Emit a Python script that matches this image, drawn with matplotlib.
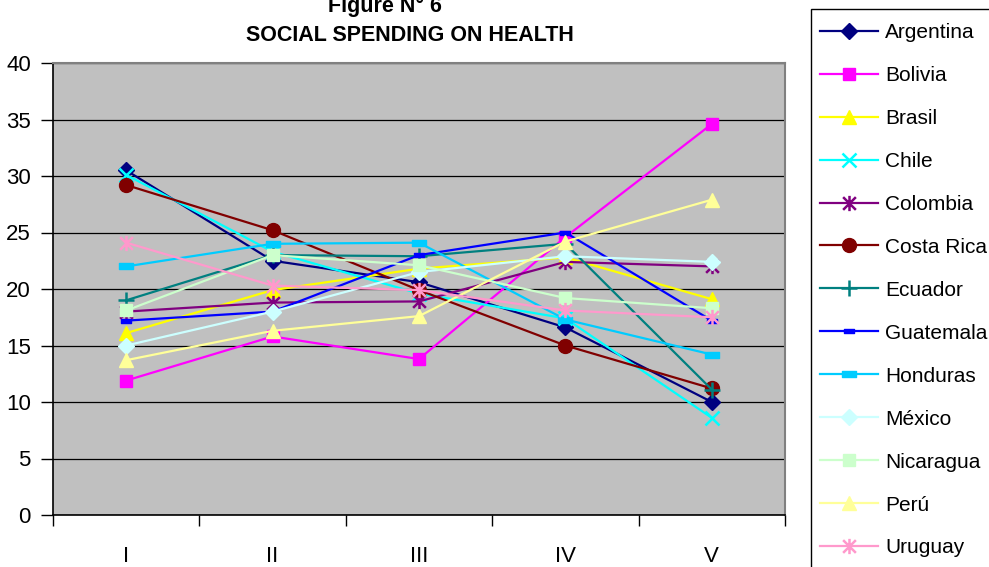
import matplotlib
matplotlib.use("Agg")
import matplotlib.pyplot as plt
from matplotlib.path import Path
from matplotlib.patches import Rectangle

plt.rcParams['font.family'] = ['Liberation Sans', 'DejaVu Sans']

periods = ["I", "II", "III", "IV", "V"]
countries = ["Argentina", "Bolivia", "Brasil", "Chile", "Colombia", "Costa Rica",
             "Ecuador", "Guatemala", "Honduras", "México", "Nicaragua", "Perú", "Uruguay"]

argentina = [30.5, 22.5, 20.6, 16.6, 10.0]
bolivia = [11.9, 15.8, 13.8, 24.6, 34.6]
brasil = [16.1, 19.9, 21.8, 22.8, 19.1]
chile = [30.1, 23.3, 19.6, 17.4, 8.6]
colombia = [18.0, 18.8, 18.9, 22.4, 22.0]
costa_rica = [29.2, 25.2, 19.9, 15.0, 11.2]
ecuador = [19.0, 23.0, 22.9, 24.0, 11.1]
guatemala = [17.2, 18.0, 23.0, 25.0, 17.2]
honduras = [22.0, 24.0, 24.1, 17.3, 14.2]
mexico = [15.0, 18.0, 21.5, 22.9, 22.4]
nicaragua = [18.1, 23.0, 22.1, 19.2, 18.3]
peru = [13.7, 16.3, 17.6, 24.2, 27.9]
uruguay = [24.1, 20.3, 19.9, 18.1, 17.5]

series = [argentina, bolivia, brasil, chile, colombia, costa_rica, ecuador,
          guatemala, honduras, mexico, nicaragua, peru, uruguay]

colors = ["#000080", "#FF00FF", "#FFFF00", "#00FFFF", "#800080", "#800000",
          "#008080", "#0000FF", "#00CCFF", "#CCFFFF", "#CCFFCC", "#FFFF99", "#FF99CC"]

star = Path([(-1, -1), (1, 1), (-1, 1), (1, -1), (0, -1.2), (0, 1.2)],
            [Path.MOVETO, Path.LINETO, Path.MOVETO, Path.LINETO, Path.MOVETO, Path.LINETO])
dash = Path([(-1, -0.4), (1, -0.4), (1, 0.4), (-1, 0.4), (-1, -0.4)],
            [Path.MOVETO, Path.LINETO, Path.LINETO, Path.LINETO, Path.CLOSEPOLY])

# marker, size, filled
styles = [("D", 8, True), ("s", 9, True), ("^", 10, True), ("x", 10, False),
          (star, 11, False), ("o", 10, True), ("+", 11, False), (dash, 7, True),
          (dash, 10, True), ("D", 8, True), ("s", 9, True), ("^", 10, True), (star, 11, False)]

fig = plt.figure(figsize=(9.89, 5.67), dpi=100)
ax = fig.add_axes([53 / 989, 1 - 515 / 567, (785 - 53) / 989, (515 - 63) / 567])
ax.set_facecolor("#C0C0C0")

x = list(range(len(periods)))
handles = []
for vals, name, col, (mk, ms, filled) in zip(series, countries, colors, styles):
    if filled:
        ln, = ax.plot(x, vals, color=col, lw=1.6, marker=mk, ms=ms,
                      markerfacecolor=col, markeredgecolor=col, mew=1, label=name)
    else:
        ln, = ax.plot(x, vals, color=col, lw=1.6, marker=mk, ms=ms,
                      markeredgecolor=col, mew=1.8, label=name)
    handles.append(ln)

ax.set_xlim(-0.5, 4.5)
ax.set_ylim(0, 40)
ax.set_yticks(range(0, 41, 5))
ax.yaxis.grid(True, color="black", lw=0.9)
ax.set_axisbelow(True)
ax.set_xticks(x)
ax.set_xticklabels(periods)
ax.set_xticks([i - 0.5 for i in range(6)], minor=True)
ax.tick_params(axis="x", which="major", length=0, pad=22, labelsize=16)
ax.tick_params(axis="x", which="minor", length=8, width=1, direction="out")
ax.tick_params(axis="y", length=9, width=1, pad=7, labelsize=16)
for s in ["top", "right"]:
    ax.spines[s].set_color("#808080")
    ax.spines[s].set_linewidth(1.5)
for s in ["left", "bottom"]:
    ax.spines[s].set_color("black")
    ax.spines[s].set_linewidth(1.2)

fig.text(385 / 989, 1 - 12 / 567, "Figure N° 6", ha="center", va="baseline",
         fontsize=15.5, fontweight="bold")
fig.text(410 / 989, 1 - 41 / 567, "SOCIAL SPENDING ON HEALTH", ha="center", va="baseline",
         fontsize=15.5, fontweight="bold")

# legend box (extends past the bottom/right edge as in the reference)
fig.patches.append(Rectangle((811 / 989, -0.1), 0.5, 1.1 - 9 / 567,
                             transform=fig.transFigure, fill=False,
                             edgecolor="black", lw=1.0))
leg = fig.legend(handles=handles, loc="upper left",
                 bbox_to_anchor=(820 / 989, 1 - 23 / 567),
                 frameon=False, fontsize=15,
                 handlelength=2.8, handletextpad=0.33, borderpad=0,
                 labelspacing=1.15, borderaxespad=0)

fig.savefig("out.png", dpi=100)
